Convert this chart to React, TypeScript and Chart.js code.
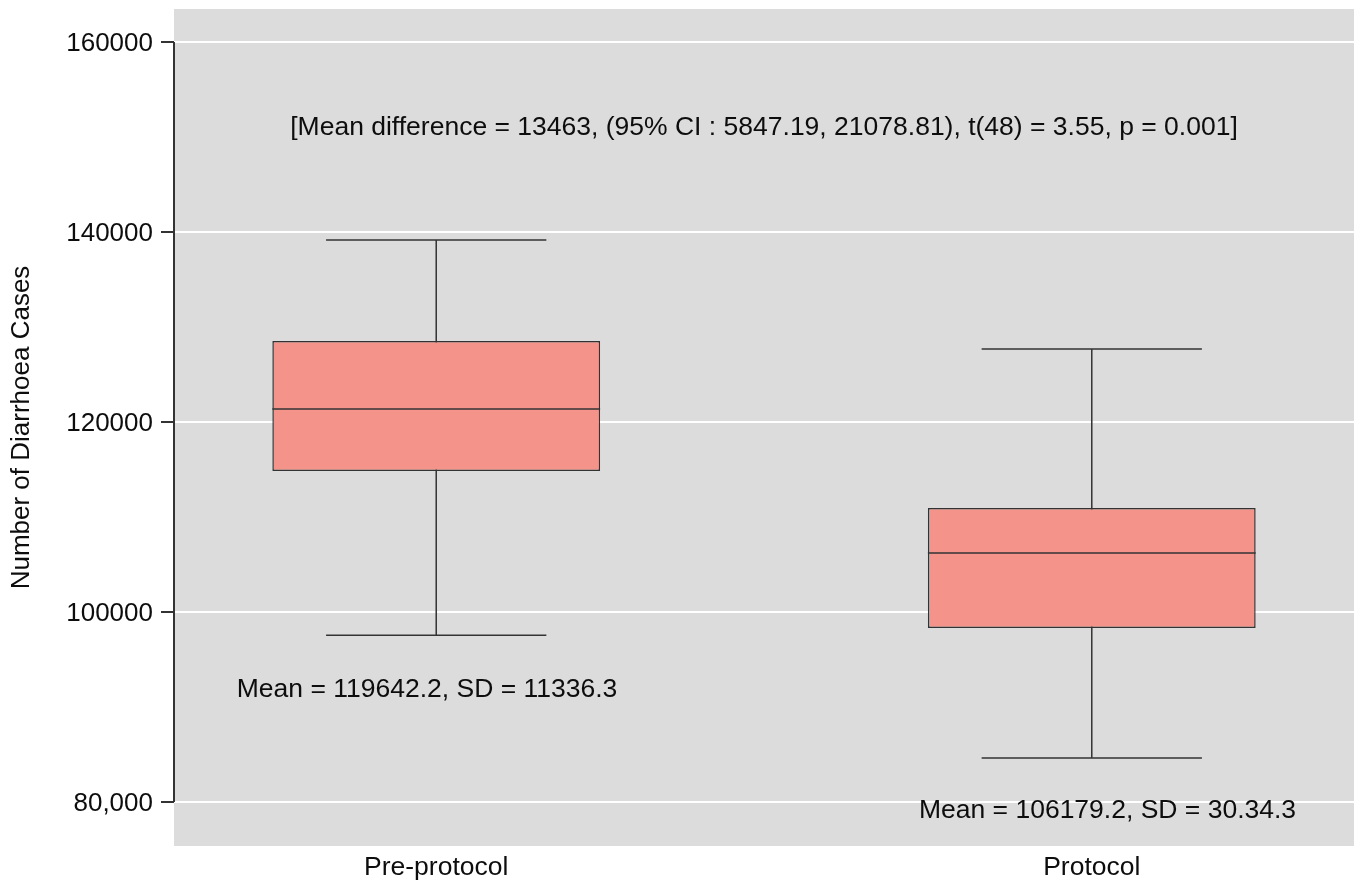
import React, { useEffect, useRef } from "react";
import { Chart, registerables } from "chart.js";

Chart.register(...registerables);

const categories = ["Pre-protocol", "Protocol"];
const categoryPos = [1, 2];
const whiskerLow = [97550, 84630];
const q1 = [114840, 98320];
const median = [121370, 106210];
const q3 = [128530, 110950];
const whiskerHigh = [139160, 127680];

const yTicks = [80000, 100000, 120000, 140000, 160000];
const yTickLabels = ["80,000", "100000", "120000", "140000", "160000"];

const annotationTexts = [
  "[Mean difference = 13463, (95% CI : 5847.19, 21078.81), t(48) = 3.55, p = 0.001]",
  "Mean = 119642.2, SD = 11336.3",
  "Mean = 106179.2, SD = 30.34.3",
];
const annotationX = [1.5, 0.986, 2.024];
const annotationY = [150950, 91800, 79060];

const FONT = "'Liberation Sans', Arial, Helvetica, sans-serif";
const INK = "#333333";
const TEXT = "#0d0d0d";

const boxPlugin = {
  id: "boxExtras",
  beforeDraw(chart: any) {
    const { ctx, chartArea } = chart;
    ctx.save();
    ctx.fillStyle = "#DCDCDC";
    ctx.fillRect(chartArea.left, chartArea.top, chartArea.right - chartArea.left, chartArea.bottom - chartArea.top);
    ctx.restore();
  },
  beforeDatasetsDraw(chart: any) {
    const { ctx } = chart;
    const xs = chart.scales.x;
    const ys = chart.scales.y;
    const unit = xs.getPixelForValue(2) - xs.getPixelForValue(1);
    const capHalf = unit * 0.168;
    ctx.save();
    ctx.strokeStyle = INK;
    ctx.lineWidth = 1.5;
    categoryPos.forEach((c, i) => {
      const cx = xs.getPixelForValue(c);
      const yLo = ys.getPixelForValue(whiskerLow[i]);
      const yHi = ys.getPixelForValue(whiskerHigh[i]);
      ctx.beginPath();
      ctx.moveTo(cx, yHi);
      ctx.lineTo(cx, yLo);
      ctx.moveTo(cx - capHalf, yHi);
      ctx.lineTo(cx + capHalf, yHi);
      ctx.moveTo(cx - capHalf, yLo);
      ctx.lineTo(cx + capHalf, yLo);
      ctx.stroke();
    });
    ctx.restore();
  },
  afterDatasetsDraw(chart: any) {
    const { ctx } = chart;
    const xs = chart.scales.x;
    const ys = chart.scales.y;
    const unit = xs.getPixelForValue(2) - xs.getPixelForValue(1);
    const boxHalf = unit * 0.25;
    ctx.save();
    ctx.strokeStyle = INK;
    ctx.lineWidth = 1.5;
    categoryPos.forEach((c, i) => {
      const cx = xs.getPixelForValue(c);
      const ym = ys.getPixelForValue(median[i]);
      ctx.beginPath();
      ctx.moveTo(cx - boxHalf, ym);
      ctx.lineTo(cx + boxHalf, ym);
      ctx.stroke();
    });
    // y axis line over the tick range
    ctx.strokeStyle = INK;
    ctx.lineWidth = 2;
    ctx.beginPath();
    const ax = chart.chartArea.left;
    ctx.moveTo(ax, ys.getPixelForValue(yTicks[0]));
    ctx.lineTo(ax, ys.getPixelForValue(yTicks[yTicks.length - 1]));
    ctx.stroke();
    // annotations
    ctx.fillStyle = TEXT;
    ctx.font = `26.5px ${FONT}`;
    ctx.textAlign = "center";
    ctx.textBaseline = "middle";
    annotationTexts.forEach((t, i) => {
      ctx.fillText(t, xs.getPixelForValue(annotationX[i]), ys.getPixelForValue(annotationY[i]));
    });
    ctx.restore();
  },
};

export default function App() {
  const ref = useRef<HTMLCanvasElement | null>(null);
  useEffect(() => {
    if (!ref.current) return;
    const chart = new Chart(ref.current, {
      type: "bar",
      data: {
        datasets: [
          {
            label: "Diarrhoea cases",
            data: categoryPos.map((c, i) => ({ x: c, y: [q1[i], q3[i]] })) as any,
            backgroundColor: "#F4938A",
            borderColor: INK,
            borderWidth: 1.5,
            borderSkipped: false,
            barPercentage: 0.5,
            categoryPercentage: 1.0,
          },
        ],
      },
      options: {
        responsive: false,
        animation: false,
        layout: { padding: { top: 9, right: 3, left: 0, bottom: 0 } },
        plugins: {
          legend: { display: false },
          tooltip: { enabled: false },
        },
        scales: {
          x: {
            type: "linear",
            min: 0.6,
            max: 2.4,
            offset: false,
            afterBuildTicks: (s: any) => {
              s.ticks = categoryPos.map((v) => ({ value: v }));
            },
            afterFit: (s: any) => {
              s.height = 38;
              s.paddingLeft = 0;
              s.paddingRight = 0;
            },
            grid: { display: false, drawTicks: false, offset: false },
            border: { display: false },
            ticks: {
              padding: 6,
              color: TEXT,
              font: { family: FONT, size: 26.5 },
              maxRotation: 0,
              autoSkip: false,
              callback: (v: any) => {
                const idx = categoryPos.indexOf(Number(v));
                return idx >= 0 ? categories[idx] : "";
              },
            },
          },
          y: {
            type: "linear",
            min: 75368,
            max: 163474,
            afterBuildTicks: (s: any) => {
              s.ticks = yTicks.map((v) => ({ value: v }));
            },
            afterFit: (s: any) => {
              s.width = 174;
              s.paddingTop = 0;
              s.paddingBottom = 0;
            },
            grid: {
              color: "#ffffff",
              lineWidth: 2,
              tickColor: INK,
              tickWidth: 2,
              tickLength: 13,
              drawTicks: true,
            },
            border: { display: false },
            title: {
              display: true,
              text: "Number of Diarrhoea Cases",
              color: TEXT,
              font: { family: FONT, size: 26 },
              padding: { top: 6, bottom: 0 },
            },
            ticks: {
              padding: 8,
              labelOffset: 2,
              color: TEXT,
              font: { family: FONT, size: 26 },
              autoSkip: false,
              callback: (v: any) => {
                const idx = yTicks.indexOf(Number(v));
                return idx >= 0 ? yTickLabels[idx] : "";
              },
            },
          },
        },
      },
      plugins: [boxPlugin],
    });
    return () => chart.destroy();
  }, []);
  return (
    <div style={{ position: "fixed", left: 0, top: 0, width: 1357, height: 884, background: "#fff" }}>
      <canvas ref={ref} width={1357} height={884} style={{ display: "block" }} />
    </div>
  );
}
